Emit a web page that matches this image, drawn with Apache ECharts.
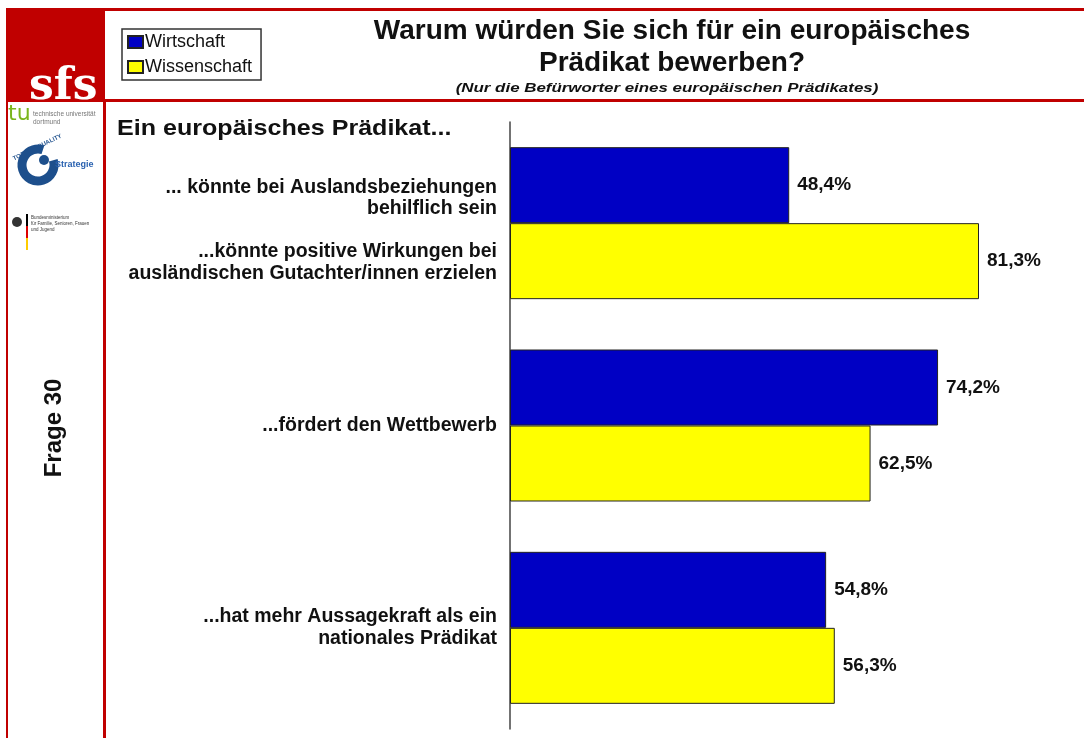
<!DOCTYPE html>
<html>
<head>
<meta charset="utf-8">
<script src="https://cdn.jsdelivr.net/npm/echarts@6/dist/echarts.min.js"></script>
<style>
  html, body { margin: 0; padding: 0; background: #fff; }
  #chart { width: 1084px; height: 738px; }
</style>
</head>
<body>
<div id="chart"></div>
<script>
const categories = [
  "... könnte bei Auslandsbeziehungen\nbehilflich sein\n\n...könnte positive Wirkungen bei\nausländischen Gutachter/innen erzielen",
  "...fördert den Wettbewerb",
  "...hat mehr Aussagekraft als ein\nnationales Prädikat"
];
const wirtschaft = [48.4, 74.2, 54.8];
const wissenschaft = [81.3, 62.5, 56.3];

const RED = '#C00000';
const FONT = 'Arial, "Liberation Sans", sans-serif';

const chart = echarts.init(document.getElementById('chart'));

const valueLabel = {
  show: true,
  position: 'right',
  distance: 8,
  color: '#111',
  fontFamily: FONT,
  fontWeight: 'bold',
  fontSize: 19,
  formatter: p => p.value.toFixed(1).replace('.', ',') + '%'
};

const labelStyle = { color: '#111', fontFamily: FONT, fontWeight: 'bold', fontSize: 19.5, lineHeight: 21.5, align: 'right' };

const option = {
  animation: false,
  backgroundColor: '#fff',
  textStyle: { fontFamily: FONT },
  title: {
    text: 'Warum würden Sie sich für ein europäisches\nPrädikat bewerben?',
    left: 667, top: 10, textAlign: 'center',
    textStyle: { fontFamily: FONT, fontWeight: 'bold', fontSize: 28, lineHeight: 32, color: '#111' }
  },
  legend: {
    orient: 'vertical',
    left: 122, top: 29,
    padding: [4, 9, 4, 5],
    itemGap: 7,
    itemWidth: 15,
    itemHeight: 12,
    icon: 'rect',
    borderColor: '#333',
    borderWidth: 1.5,
    textStyle: { fontFamily: FONT, fontSize: 18, color: '#111', padding: [0, 0, 0, -3] },
    data: ['Wirtschaft', 'Wissenschaft']
  },
  grid: { left: 510, top: 122, right: 0, height: 607, containLabel: false },
  xAxis: {
    type: 'value', min: 0, max: 99.5,
    show: false
  },
  yAxis: {
    type: 'category',
    inverse: true,
    data: categories,
    axisLine: { show: true, lineStyle: { color: '#444', width: 1.5 } },
    axisTick: { show: false },
    axisLabel: Object.assign({
      margin: 13,
      formatter: (value, idx) => idx === 0
        ? '{s| }\n' + value.split('\n').map(l => '{f|' + (l || ' ') + '}').join('\n')
        : value,
      rich: {
        s: { fontSize: 2, lineHeight: 14 },
        f: labelStyle
      }
    }, labelStyle)
  },
  series: [
    {
      name: 'Wirtschaft', type: 'bar',
      data: wirtschaft,
      barWidth: 76, barGap: '0%',
      itemStyle: { color: '#0000C4', borderColor: '#222', borderWidth: 1 },
      label: valueLabel
    },
    {
      name: 'Wissenschaft', type: 'bar',
      data: wissenschaft,
      barWidth: 76, barGap: '0%',
      itemStyle: { color: '#FFFF00', borderColor: '#222', borderWidth: 1 },
      label: valueLabel
    }
  ],
  graphic: [
    // header frame
    { type: 'rect', shape: { x: 6, y: 8, width: 1078, height: 3 }, style: { fill: RED }, silent: true },
    { type: 'rect', shape: { x: 105, y: 99, width: 979, height: 3 }, style: { fill: RED }, silent: true },
    { type: 'rect', shape: { x: 6, y: 8, width: 99, height: 94 }, style: { fill: RED }, silent: true },
    // sidebar borders
    { type: 'rect', shape: { x: 6, y: 100, width: 2, height: 638 }, style: { fill: RED }, silent: true },
    { type: 'rect', shape: { x: 103, y: 100, width: 3, height: 638 }, style: { fill: RED }, silent: true },
    { type: 'rect', shape: { x: 8, y: 102, width: 95, height: 636 }, style: { fill: '#fff' }, silent: true },
    // sfs logo
    {
      type: 'text', left: 29, top: 66, silent: true,
      style: { text: 'sfs', fill: '#fff', font: 'bold 44px "DejaVu Serif", serif' }
    },
    { type: 'rect', shape: { x: 8, y: 100, width: 95, height: 2 }, style: { fill: RED }, silent: true },
    // subtitle and section heading (horizontally widened like the original)
    {
      type: 'text', x: 667, y: 88, scaleX: 1.3, silent: true,
      style: { text: '(Nur die Befürworter eines europäischen Prädikates)', fill: '#111', align: 'center', verticalAlign: 'middle',
        font: 'italic bold 13px Arial, "Liberation Sans", sans-serif' }
    },
    {
      type: 'text', x: 117, y: 129, scaleX: 1.14, silent: true,
      style: { text: 'Ein europäisches Prädikat...', fill: '#111', verticalAlign: 'middle',
        font: 'bold 22px Arial, "Liberation Sans", sans-serif' }
    },
    // tu dortmund
    {
      type: 'text', left: 8, top: 103, silent: true,
      style: { text: 'tu', fill: '#7ab51d', font: '22px "DejaVu Sans", sans-serif' }
    },
    {
      type: 'text', left: 33, top: 110, silent: true,
      style: { text: 'technische universität\ndortmund', fill: '#777', font: '6.5px "Liberation Sans", sans-serif', lineHeight: 8 }
    },
    // total e-quality
    {
      type: 'text', left: 12, top: 133, silent: true, rotation: 0.45,
      style: { text: 'TOTAL E-QUALITY', fill: '#1d4f8c', font: 'bold 6px "Liberation Sans", sans-serif' }
    },
    {
      type: 'arc', silent: true,
      shape: { cx: 38, cy: 165, r: 16, startAngle: -0.3, endAngle: Math.PI * 1.6, clockwise: true },
      style: { stroke: '#1d4f8c', lineWidth: 9, fill: null }
    },
    { type: 'circle', shape: { cx: 44, cy: 160, r: 5 }, style: { fill: '#1d4f8c' }, silent: true },
    {
      type: 'text', left: 55, top: 160, silent: true,
      style: { text: 'Strategie', fill: '#2a62b0', font: 'bold 9px "Liberation Sans", sans-serif' }
    },
    // BMFSFJ
    { type: 'circle', shape: { cx: 17, cy: 222, r: 5 }, style: { fill: '#333' }, silent: true },
    { type: 'rect', shape: { x: 26, y: 214, width: 2, height: 12 }, style: { fill: '#000' }, silent: true },
    { type: 'rect', shape: { x: 26, y: 226, width: 2, height: 12 }, style: { fill: '#dd0000' }, silent: true },
    { type: 'rect', shape: { x: 26, y: 238, width: 2, height: 12 }, style: { fill: '#ffcc00' }, silent: true },
    {
      type: 'text', left: 31, top: 215, silent: true,
      style: { text: 'Bundesministerium\nfür Familie, Senioren, Frauen\nund Jugend', fill: '#333', font: '4.5px "Liberation Sans", sans-serif', lineHeight: 6 }
    },
    // Frage 30
    {
      type: 'text', x: 54, y: 428, rotation: Math.PI / 2, silent: true,
      style: { text: 'Frage 30', fill: '#111', font: 'bold 24px Arial, "Liberation Sans", sans-serif', align: 'center', verticalAlign: 'middle' }
    }
  ]
};

chart.setOption(option);
window.addEventListener('resize', () => chart.resize());
</script>
</body>
</html>
